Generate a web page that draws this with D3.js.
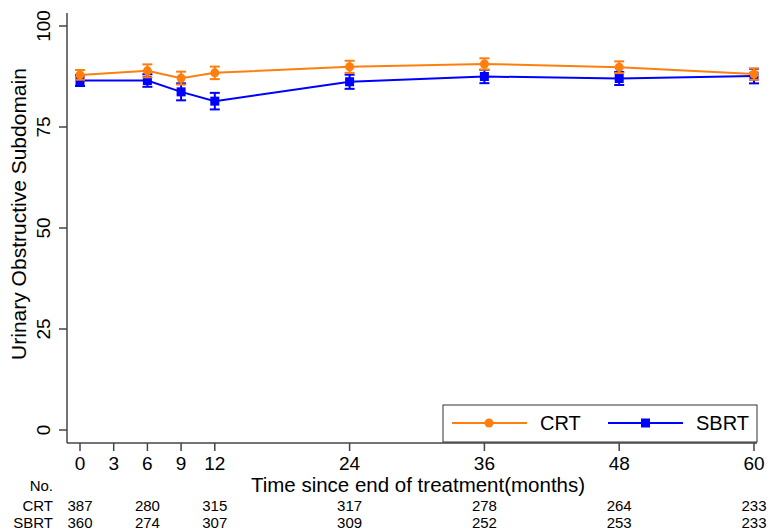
<!DOCTYPE html>
<html>
<head>
<meta charset="utf-8">
<script src="https://cdn.jsdelivr.net/npm/d3@7"></script>
<style>
  body { margin: 0; background: #fff; }
  text { font-family: Arial, 'Liberation Sans', sans-serif; fill: #000; }
</style>
</head>
<body>
<div id="chart"></div>
<script>
const months = [0, 6, 9, 12, 24, 36, 48, 60]
const crtMean = [87.9, 88.9, 87.1, 88.4, 89.9, 90.6, 89.8, 88.1]
const crtErr = [1.2, 1.6, 1.6, 1.55, 1.5, 1.4, 1.45, 1.4]
const sbrtMean = [86.5, 86.5, 83.7, 81.4, 86.2, 87.5, 87.0, 87.6]
const sbrtErr = [1.35, 1.55, 2.1, 2.05, 1.75, 1.65, 1.6, 1.8]

const xTicks = [0, 3, 6, 9, 12, 24, 36, 48, 60]
const yTicks = [0, 25, 50, 75, 100]

const riskTimes = [0, 6, 12, 24, 36, 48, 60]
const crtRisk = [387, 280, 315, 317, 278, 264, 233]
const sbrtRisk = [360, 274, 307, 309, 252, 253, 233]

const width = 771
const height = 531
const orange = '#ff7f0e'
const blue = '#0000ff'

const svg = d3.select('#chart').append('svg')
  .attr('width', width)
  .attr('height', height)

const x = d3.scaleLinear().domain([0, 60]).range([80, 754])
const y = d3.scaleLinear().domain([0, 100]).range([430, 26])

// axes
const axisY = 443
svg.append('line')
  .attr('x1', 67).attr('x2', 67)
  .attr('y1', 13).attr('y2', axisY)
  .attr('stroke', '#444').attr('stroke-width', 1.5)
svg.append('line')
  .attr('x1', 67).attr('x2', 757)
  .attr('y1', axisY).attr('y2', axisY)
  .attr('stroke', '#444').attr('stroke-width', 1.5)

const yAxis = svg.append('g')
yAxis.selectAll('line').data(yTicks).enter().append('line')
  .attr('x1', 59).attr('x2', 67)
  .attr('y1', d => y(d)).attr('y2', d => y(d))
  .attr('stroke', '#444').attr('stroke-width', 1.5)
yAxis.selectAll('text').data(yTicks).enter().append('text')
  .attr('transform', d => `translate(50,${y(d)}) rotate(-90)`)
  .attr('text-anchor', 'middle')
  .attr('font-size', 19)
  .text(d => d)

const xAxis = svg.append('g')
xAxis.selectAll('line').data(xTicks).enter().append('line')
  .attr('x1', d => x(d)).attr('x2', d => x(d))
  .attr('y1', axisY).attr('y2', axisY + 8)
  .attr('stroke', '#444').attr('stroke-width', 1.5)
xAxis.selectAll('text').data(xTicks).enter().append('text')
  .attr('x', d => x(d)).attr('y', 470)
  .attr('text-anchor', 'middle')
  .attr('font-size', 19)
  .text(d => d)

svg.append('text')
  .attr('x', 418).attr('y', 492)
  .attr('text-anchor', 'middle')
  .attr('font-size', 20.5)
  .text('Time since end of treatment(months)')

svg.append('text')
  .attr('transform', 'translate(26,214) rotate(-90)')
  .attr('text-anchor', 'middle')
  .attr('font-size', 21)
  .text('Urinary Obstructive Subdomain')

// series
const line = d3.line().x(d => x(d.t)).y(d => y(d.v))

const drawSeries = (means, errs, color, shape) => {
  const pts = months.map((t, i) => ({ t, v: means[i], e: errs[i] }))
  const g = svg.append('g')
  g.append('path')
    .datum(pts)
    .attr('d', line)
    .attr('fill', 'none')
    .attr('stroke', color)
    .attr('stroke-width', 2)
  const eb = g.selectAll('g.eb').data(pts).enter().append('g')
  eb.append('line')
    .attr('x1', d => x(d.t)).attr('x2', d => x(d.t))
    .attr('y1', d => y(d.v - d.e)).attr('y2', d => y(d.v + d.e))
    .attr('stroke', color).attr('stroke-width', 2)
  ;[-1, 1].forEach(s => {
    eb.append('line')
      .attr('x1', d => x(d.t) - 5).attr('x2', d => x(d.t) + 5)
      .attr('y1', d => y(d.v + s * d.e)).attr('y2', d => y(d.v + s * d.e))
      .attr('stroke', color).attr('stroke-width', 2)
  })
  if (shape === 'circle') {
    eb.append('circle')
      .attr('cx', d => x(d.t)).attr('cy', d => y(d.v))
      .attr('r', 4.5).attr('fill', color)
  } else {
    eb.append('rect')
      .attr('x', d => x(d.t) - 4.5).attr('y', d => y(d.v) - 4.5)
      .attr('width', 9).attr('height', 9).attr('fill', color)
  }
}

drawSeries(sbrtMean, sbrtErr, blue, 'square')
drawSeries(crtMean, crtErr, orange, 'circle')

// legend
const legend = svg.append('g')
legend.append('rect')
  .attr('x', 443).attr('y', 405)
  .attr('width', 314).attr('height', 37)
  .attr('fill', '#fff').attr('stroke', '#333').attr('stroke-width', 1)
const legendItems = [
  { name: 'CRT', color: orange, shape: 'circle', x0: 452 },
  { name: 'SBRT', color: blue, shape: 'square', x0: 608 }
]
legendItems.forEach(d => {
  legend.append('line')
    .attr('x1', d.x0).attr('x2', d.x0 + 75)
    .attr('y1', 423).attr('y2', 423)
    .attr('stroke', d.color).attr('stroke-width', 2)
  if (d.shape === 'circle') {
    legend.append('circle').attr('cx', d.x0 + 37).attr('cy', 423)
      .attr('r', 4.5).attr('fill', d.color)
  } else {
    legend.append('rect').attr('x', d.x0 + 33).attr('y', 418.5)
      .attr('width', 9).attr('height', 9).attr('fill', d.color)
  }
  legend.append('text')
    .attr('x', d.x0 + 88).attr('y', 430)
    .attr('font-size', 20)
    .text(d.name)
})

// numbers at risk
svg.append('text')
  .attr('x', 53).attr('y', 491)
  .attr('text-anchor', 'end').attr('font-size', 15)
  .text('No.')
const riskRows = [
  { label: 'CRT', values: crtRisk, yPos: 511 },
  { label: 'SBRT', values: sbrtRisk, yPos: 528 }
]
riskRows.forEach(r => {
  svg.append('text')
    .attr('x', 53).attr('y', r.yPos)
    .attr('text-anchor', 'end').attr('font-size', 15)
    .text(r.label)
  svg.append('g').selectAll('text').data(r.values).enter().append('text')
    .attr('x', (d, i) => x(riskTimes[i])).attr('y', r.yPos)
    .attr('text-anchor', 'middle').attr('font-size', 15)
    .text(d => d)
})
</script>
</body>
</html>
